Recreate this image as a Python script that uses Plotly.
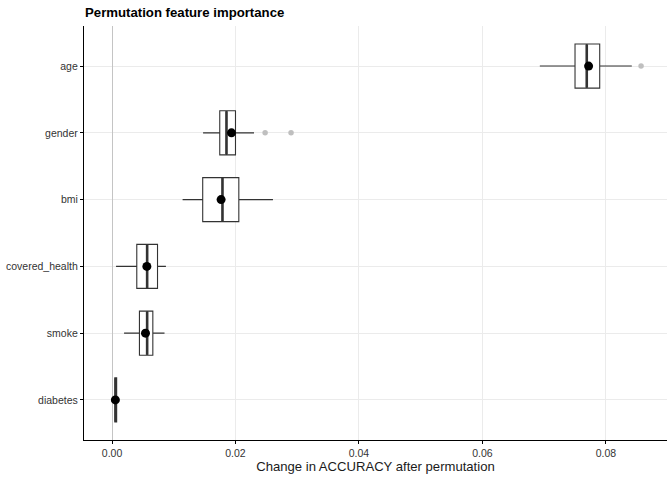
import plotly.graph_objects as go

# box statistics (change in accuracy after permutation)
features = ['diabetes', 'smoke', 'covered_health', 'bmi', 'gender', 'age']
lower = [0.00045, 0.00195, 0.00065, 0.01143, 0.01475, 0.0693]
q1 = [0.00045, 0.00444, 0.00401, 0.01469, 0.01745, 0.0750]
median = [0.0006, 0.00569, 0.00569, 0.01789, 0.01854, 0.0769]
q3 = [0.00075, 0.00661, 0.00737, 0.02054, 0.0200, 0.0790]
upper = [0.00075, 0.0085, 0.00873, 0.02607, 0.0230, 0.0842]
means = [0.00054, 0.00542, 0.00564, 0.01767, 0.01935, 0.0772]

# outlier points
out_feature = ['gender', 'gender', 'age']
out_value = [0.0248, 0.0290, 0.0857]

fig = go.Figure()

fig.add_trace(go.Box(
    y=features, q1=q1, median=median, q3=q3,
    lowerfence=lower, upperfence=upper,
    orientation='h', width=0.66, whiskerwidth=0,
    fillcolor='white', line=dict(color='#333333', width=1.1),
    boxpoints=False, showlegend=False
))

# thicker median line like ggplot
fig.add_trace(go.Scatter(
    x=median, y=features, mode='markers',
    marker=dict(symbol='line-ns', size=31, line=dict(color='#333333', width=2.6)),
    showlegend=False
))

# outliers
fig.add_trace(go.Scatter(
    x=out_value, y=out_feature, mode='markers',
    marker=dict(color='#bfbfbf', size=5.5),
    showlegend=False
))

# means
fig.add_trace(go.Scatter(
    x=means, y=features, mode='markers',
    marker=dict(color='black', size=9),
    showlegend=False
))

fig.update_layout(
    width=672, height=480,
    margin=dict(l=84, r=5, t=26, b=40),
    plot_bgcolor='white', paper_bgcolor='white',
    font=dict(family='Liberation Sans, Arial, sans-serif', color='#1a1a1a', size=11),
    title=dict(text='<b>Permutation feature importance</b>', x=85/672, xanchor='left',
               y=1 - 12/480, yanchor='middle', font=dict(size=13.2, color='black')),
)

fig.update_xaxes(
    range=[-0.00454, 0.0899], automargin=False,
    tickvals=[0, 0.02, 0.04, 0.06, 0.08],
    ticktext=['0.00', '0.02', '0.04', '0.06', '0.08'],
    showgrid=True, gridcolor='#ebebeb', gridwidth=1,
    zeroline=True, zerolinecolor='#c4c4c4', zerolinewidth=1.3,
    showline=True, linecolor='black', linewidth=1.2,
    ticks='outside', ticklen=3, tickcolor='black',
    tickfont=dict(size=10.5, color='#333333'),
    title=dict(text='Change in ACCURACY after permutation', font=dict(size=13.1), standoff=2),
)

fig.update_yaxes(
    type='category', categoryorder='array', categoryarray=features,
    range=[-0.6, 5.6], automargin=False,
    showgrid=True, gridcolor='#ebebeb', gridwidth=1,
    showline=True, linecolor='black', linewidth=1.2,
    ticks='outside', ticklen=3, tickcolor='black',
    tickfont=dict(size=10.5, color='#333333'),
)

# drop the page's default body margin so the figure sits at the top-left corner
fig.write_html("out.html", config={'displayModeBar': False},
               post_script="document.body.style.margin='0';")
